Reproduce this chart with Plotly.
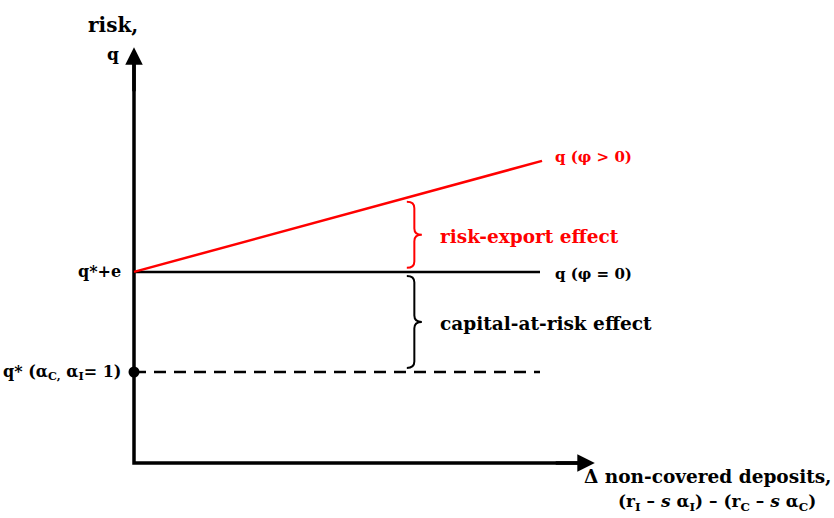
import plotly.graph_objects as go

# ---- conceptual diagram values (axis units) ----
x_line_end = 10.0          # horizontal extent of the q-lines
x_axis_max = 11.35         # tip of the horizontal axis arrow
y_axis_max = 9.14          # tip of the vertical axis arrow
q_star = 2.0               # q*(alpha_C, alpha_I = 1)
q_star_e = 4.2             # q* + e
q_phi_pos_end = 6.64       # q(phi>0) at x_red_end
x_red_end = 10.05
brace_x = 6.72             # where the braces are drawn
brace_w = 0.37

axis_titles = ["risk,", "q", "Δ non-covered deposits,",
               "(r<sub>I</sub> – <i>s</i> α<sub>I</sub>) – (r<sub>C</sub> – <i>s</i> α<sub>C</sub>)"]
labels_left = ["q*+e", "q* (α<sub>C,</sub> α<sub>I</sub>= 1)"]
line_labels = ["q (φ > 0)", "q (φ = 0)"]
effect_labels = ["risk-export effect", "capital-at-risk effect"]

FONT = "DejaVu Serif"
RED = "#ff0000"
BLACK = "#000000"

x_range = [-134 / 40.6, (834 - 134) / 40.6]
y_range = [(463 - 518) / 45.5, 463 / 45.5]

fig = go.Figure()

# axes body
fig.add_trace(go.Scatter(x=[0, 0, x_axis_max - 0.3], y=[y_axis_max - 0.3, 0, 0],
                         mode="lines", line=dict(color=BLACK, width=3.5),
                         hoverinfo="skip"))
# q(phi=0)
fig.add_trace(go.Scatter(x=[0, x_line_end], y=[q_star_e, q_star_e], mode="lines",
                         line=dict(color=BLACK, width=2.5), hoverinfo="skip"))
# q(phi>0)
fig.add_trace(go.Scatter(x=[0, x_red_end], y=[q_star_e, q_phi_pos_end], mode="lines",
                         line=dict(color=RED, width=2.5), hoverinfo="skip"))
# q* dashed
fig.add_trace(go.Scatter(x=[0, x_line_end], y=[q_star, q_star], mode="lines",
                         line=dict(color=BLACK, width=2.5, dash="12px,8px"),
                         hoverinfo="skip"))
# q* dot
fig.add_trace(go.Scatter(x=[0], y=[q_star], mode="markers",
                         marker=dict(color=BLACK, size=11), hoverinfo="skip"))


def brace(x0, y_top, y_bot, w, color):
    xm = x0 + w * 0.5
    x1 = x0 + w
    ym = (y_top + y_bot) / 2
    h = 0.14
    p = (f"M {x0},{y_top} Q {xm},{y_top} {xm},{y_top - h} "
         f"L {xm},{ym + h} Q {xm},{ym} {x1},{ym} "
         f"Q {xm},{ym} {xm},{ym - h} "
         f"L {xm},{y_bot + h} Q {xm},{y_bot} {x0},{y_bot}")
    return dict(type="path", path=p, xref="x", yref="y",
                line=dict(color=color, width=2))


red_at_brace = q_star_e + (q_phi_pos_end - q_star_e) * brace_x / x_red_end
gap = 0.09
shapes = [
    brace(brace_x, red_at_brace - gap, q_star_e + gap, brace_w, RED),
    brace(brace_x, q_star_e - gap, q_star + gap, brace_w, BLACK),
]

ann = []
# axis arrowheads
ann.append(dict(x=0, y=y_axis_max, ax=0, ay=y_axis_max - 1.0, xref="x", yref="y",
                axref="x", ayref="y", text="", showarrow=True, arrowhead=2,
                arrowsize=1.0, arrowwidth=3.5, arrowcolor=BLACK))
ann.append(dict(x=x_axis_max, y=0, ax=x_axis_max - 1.0, ay=0, xref="x", yref="y",
                axref="x", ayref="y", text="", showarrow=True, arrowhead=2,
                arrowsize=1.0, arrowwidth=3.5, arrowcolor=BLACK))


def f(size, color=BLACK):
    return dict(family=FONT, size=size, color=color, weight="bold")


ann += [
    dict(x=-0.52, y=9.63, text=axis_titles[0], font=f(20), showarrow=False, xanchor="center"),
    dict(x=-0.52, y=9.0, text=axis_titles[1], font=f(17), showarrow=False, xanchor="center"),
    dict(x=-0.28, y=q_star_e, text=labels_left[0], font=f(16), showarrow=False, xanchor="right"),
    dict(x=-0.28, y=q_star, text=labels_left[1], font=f(16), showarrow=False, xanchor="right"),
    dict(x=10.32, y=q_phi_pos_end + 0.08, text=line_labels[0], font=f(15, RED),
         showarrow=False, xanchor="left"),
    dict(x=10.32, y=q_star_e - 0.04, text=line_labels[1], font=f(15),
         showarrow=False, xanchor="left"),
    dict(x=7.49, y=(red_at_brace + q_star_e) / 2 - 0.03, text=effect_labels[0], font=f(18.5, RED),
         showarrow=False, xanchor="left"),
    dict(x=7.49, y=(q_star_e + q_star) / 2 - 0.03, text=effect_labels[1], font=f(18.5),
         showarrow=False, xanchor="left"),
    dict(x=(708 - 134) / 40.6, y=-0.29, text=axis_titles[2], font=f(18.5),
         showarrow=False, xanchor="center"),
    dict(x=(717 - 134) / 40.6, y=-0.86, text=axis_titles[3], font=f(17),
         showarrow=False, xanchor="center"),
]

fig.update_layout(
    width=834, height=518, margin=dict(l=0, r=0, t=0, b=0),
    font=dict(family=FONT, size=16, color=BLACK),
    plot_bgcolor="white", paper_bgcolor="white", showlegend=False,
    xaxis=dict(range=x_range, visible=False, fixedrange=True),
    yaxis=dict(range=y_range, visible=False, fixedrange=True),
    shapes=shapes, annotations=ann,
)

fig.write_html("out.html")
